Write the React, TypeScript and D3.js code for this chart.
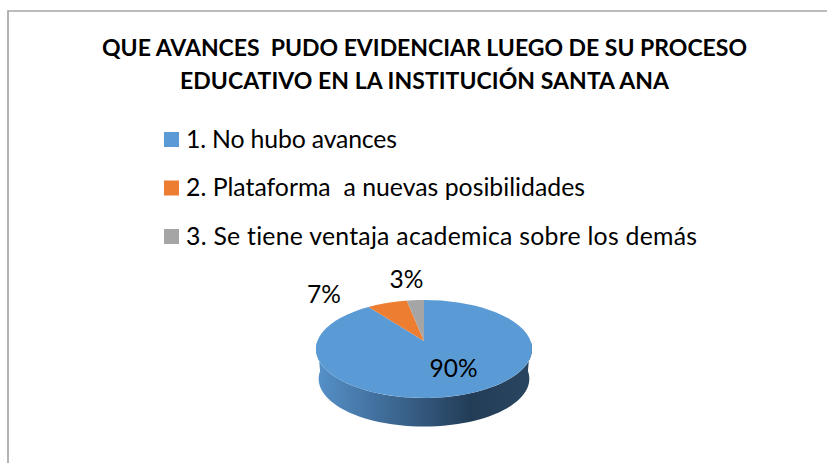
import React from "react";
import * as d3 from "d3";

const categories = ["1. No hubo avances", "2. Plataforma  a nuevas posibilidades", "3. Se tiene ventaja academica sobre los demás"];
const values = [90, 7, 3];
const labels = ["90%", "7%", "3%"];
const colors = ["#5B9BD5", "#ED7D31", "#A5A5A5"];
const titleLines = ["QUE AVANCES  PUDO EVIDENCIAR LUEGO DE SU PROCESO", "EDUCATIVO EN LA INSTITUCIÓN SANTA ANA"];

const W = 827, H = 463;
const cx = 424, apexY = 341, Rx = 106.6, Ry = 47.7, k = 0.163, depth = 30, bottomScale = 0.975;
const FONT = "Lato, Carlito, Calibri, sans-serif";
const legendTextWidths = [211, 399, 511];
const titleWidths = [645, 489];
const titleBaselines = [56, 89];

const project = (a: number, dy = 0, s = 1): [number, number] => {
  const w = 1 + k * Math.cos(a);
  return [cx + (s * Rx * Math.sin(a)) / w, apexY + dy - (s * Ry * Math.cos(a)) / w];
};

const arcPts = (a0: number, a1: number, dy = 0, s = 1) =>
  d3.range(0, 61).map((i) => project(a0 + ((a1 - a0) * i) / 60, dy, s));

const line = d3.line<[number, number]>();
const pie = d3.pie<number>().sort(null).value((d) => d);
const slices = pie(values);

const legendY = d3.scalePoint<string>().domain(categories).range([140, 237]);
const pts = arcPts(Math.PI / 2, (3 * Math.PI) / 2);
const sidePath = line([...pts, ...arcPts((3 * Math.PI) / 2, Math.PI / 2, depth, bottomScale)])! + "Z";

const labelPos = [[453.5, 377], [324, 303], [406.5, 288]];

export default function App() {
  return (
    <svg width={W} height={H} viewBox={`0 0 ${W} ${H}`} style={{ position: "absolute", left: 0, top: 0, background: "#fff", fontVariantLigatures: "none" }}>
      <defs>
        <linearGradient id="side" gradientUnits="userSpaceOnUse" x1={cx - 106} x2={cx + 106} y1={0} y2={0}>
          <stop offset="0" stopColor="#5590C8" />
          <stop offset="0.45" stopColor="#365C83" />
          <stop offset="0.72" stopColor="#233D57" />
          <stop offset="1" stopColor="#2A4560" />
        </linearGradient>
      </defs>
      <path d="M8 463V11H827" fill="none" stroke="#a6a6a6" strokeWidth={1.7} />
      <g fontFamily={FONT} fontWeight={700} fontSize={23} textAnchor="middle" fill="#000">
        {titleLines.map((t, i) => (
          <text key={i} x={424.5} y={titleBaselines[i]} textLength={titleWidths[i]} lengthAdjust="spacing" style={{ whiteSpace: "pre" }}>{t}</text>
        ))}
      </g>
      <g fontFamily={FONT} fontSize={24.8} fill="#000">
        {categories.map((c, i) => (
          <g key={c}>
            <rect x={164} y={legendY(c)! - 8} width={15} height={15} fill={colors[i]} />
            <text x={186} y={legendY(c)! + 7.5} textLength={legendTextWidths[i]} lengthAdjust="spacing" style={{ whiteSpace: "pre" }}>{c}</text>
          </g>
        ))}
      </g>
      <path d={sidePath} fill="url(#side)" />
      {slices.map((s, i) => (
        <path key={i} d={line([[cx, apexY], ...arcPts(s.startAngle, s.endAngle)])! + "Z"} fill={colors[i]} />
      ))}
      <g fontFamily={FONT} fontSize={24.5} textAnchor="middle" fill="#000">
        {labels.map((l, i) => (
          <text key={l} x={labelPos[i][0]} y={labelPos[i][1]}>{l}</text>
        ))}
      </g>
    </svg>
  );
}
